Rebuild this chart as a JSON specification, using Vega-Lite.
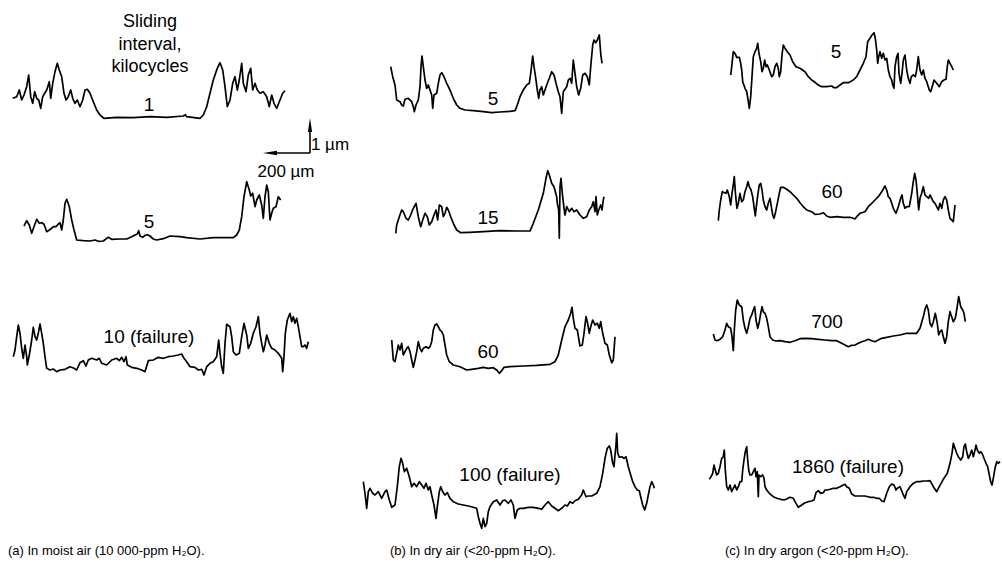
{
  "$schema": "https://vega.github.io/schema/vega-lite/v6.json",
  "width": 1002,
  "height": 572,
  "padding": 0,
  "autosize": {"type": "fit", "contains": "padding"},
  "background": "white",
  "config": {"view": {"stroke": null}},
  "datasets": {
    "traces": [
      {"t":"a1","x":12.7,"y":98.3},{"t":"a1","x":16.7,"y":96.7},{"t":"a1","x":19.3,"y":90},{"t":"a1","x":21.7,"y":100},{"t":"a1","x":24,"y":95},{"t":"a1","x":26.7,"y":86.7},{"t":"a1","x":28.7,"y":75},{"t":"a1","x":30.7,"y":96.7},{"t":"a1","x":32.7,"y":103.3},{"t":"a1","x":34.7,"y":91.7},{"t":"a1","x":36.7,"y":98.3},{"t":"a1","x":38.7,"y":100},{"t":"a1","x":40.7,"y":108.3},{"t":"a1","x":42.7,"y":96.7},{"t":"a1","x":44.7,"y":93.3},{"t":"a1","x":46.7,"y":90},{"t":"a1","x":49.3,"y":81.7},{"t":"a1","x":50.7,"y":98.3},{"t":"a1","x":52.7,"y":83.3},{"t":"a1","x":55,"y":71.7},{"t":"a1","x":57.3,"y":63.3},{"t":"a1","x":59.3,"y":70},{"t":"a1","x":61.7,"y":76.7},{"t":"a1","x":64,"y":93.3},{"t":"a1","x":66,"y":100},{"t":"a1","x":68.3,"y":96.7},{"t":"a1","x":70.7,"y":90},{"t":"a1","x":72.7,"y":98.3},{"t":"a1","x":75,"y":103.3},{"t":"a1","x":77.3,"y":100},{"t":"a1","x":80,"y":106.7},{"t":"a1","x":82.7,"y":100},{"t":"a1","x":85,"y":90},{"t":"a1","x":87.3,"y":89.3},{"t":"a1","x":90,"y":93.3},{"t":"a1","x":93.3,"y":101.7},{"t":"a1","x":96.7,"y":110},{"t":"a1","x":100,"y":115},{"t":"a1","x":104,"y":118.3},{"t":"a1","x":116.7,"y":117.3},{"t":"a1","x":133.3,"y":117.7},{"t":"a1","x":150,"y":116.7},{"t":"a1","x":166.7,"y":117.3},{"t":"a1","x":183.3,"y":116},{"t":"a1","x":185.3,"y":114.7},{"t":"a1","x":186.7,"y":116.7},{"t":"a1","x":200,"y":118.3},{"t":"a1","x":203.3,"y":115},{"t":"a1","x":206.7,"y":106.7},{"t":"a1","x":210,"y":93.3},{"t":"a1","x":213.3,"y":80},{"t":"a1","x":217.3,"y":68.3},{"t":"a1","x":220,"y":62.7},{"t":"a1","x":222.7,"y":70},{"t":"a1","x":225,"y":86.7},{"t":"a1","x":227.3,"y":106.7},{"t":"a1","x":230,"y":100},{"t":"a1","x":232.7,"y":83.3},{"t":"a1","x":235,"y":76.7},{"t":"a1","x":237.3,"y":90},{"t":"a1","x":239.3,"y":80},{"t":"a1","x":241.7,"y":63.3},{"t":"a1","x":243.3,"y":83.3},{"t":"a1","x":246,"y":91.7},{"t":"a1","x":248.3,"y":75},{"t":"a1","x":250.7,"y":68.3},{"t":"a1","x":252.7,"y":90},{"t":"a1","x":255,"y":83.3},{"t":"a1","x":257.3,"y":90},{"t":"a1","x":260,"y":93.3},{"t":"a1","x":263.3,"y":91.7},{"t":"a1","x":266.7,"y":96.7},{"t":"a1","x":269.3,"y":106.7},{"t":"a1","x":271.7,"y":95},{"t":"a1","x":274,"y":103.3},{"t":"a1","x":276.7,"y":108.3},{"t":"a1","x":280,"y":100},{"t":"a1","x":282.7,"y":93.3},{"t":"a1","x":285,"y":90.7},

      {"t":"a2","x":24,"y":226},{"t":"a2","x":26.7,"y":220.7},{"t":"a2","x":29.3,"y":225},{"t":"a2","x":31.7,"y":233.3},{"t":"a2","x":34,"y":226.7},{"t":"a2","x":36.7,"y":219.3},{"t":"a2","x":39.3,"y":223.3},{"t":"a2","x":41.7,"y":222.7},{"t":"a2","x":44,"y":224.3},{"t":"a2","x":46.7,"y":231.7},{"t":"a2","x":49.3,"y":230},{"t":"a2","x":51.7,"y":228.3},{"t":"a2","x":53.3,"y":226.7},{"t":"a2","x":56,"y":226.7},{"t":"a2","x":58.3,"y":224},{"t":"a2","x":60,"y":222.7},{"t":"a2","x":61.7,"y":230},{"t":"a2","x":63.3,"y":220},{"t":"a2","x":65,"y":203.3},{"t":"a2","x":66.7,"y":199.3},{"t":"a2","x":69.3,"y":206.7},{"t":"a2","x":71.7,"y":220},{"t":"a2","x":74,"y":230},{"t":"a2","x":76.7,"y":240},{"t":"a2","x":83.3,"y":240.7},{"t":"a2","x":90,"y":241},{"t":"a2","x":95,"y":240},{"t":"a2","x":98.3,"y":241.3},{"t":"a2","x":103.3,"y":241},{"t":"a2","x":106.7,"y":238.3},{"t":"a2","x":108.3,"y":237.3},{"t":"a2","x":111.7,"y":239.3},{"t":"a2","x":120,"y":239},{"t":"a2","x":126.7,"y":239},{"t":"a2","x":131.7,"y":236.7},{"t":"a2","x":135,"y":235},{"t":"a2","x":137.3,"y":234},{"t":"a2","x":138.7,"y":230.7},{"t":"a2","x":140,"y":236},{"t":"a2","x":142.7,"y":237.3},{"t":"a2","x":145,"y":235.3},{"t":"a2","x":147.3,"y":234.7},{"t":"a2","x":150,"y":236},{"t":"a2","x":153.3,"y":239},{"t":"a2","x":156.7,"y":240},{"t":"a2","x":163.3,"y":238.7},{"t":"a2","x":170,"y":236},{"t":"a2","x":180,"y":236.7},{"t":"a2","x":186.7,"y":237.7},{"t":"a2","x":200,"y":239},{"t":"a2","x":213.3,"y":237.7},{"t":"a2","x":233.3,"y":237.7},{"t":"a2","x":236.7,"y":235},{"t":"a2","x":239.3,"y":230},{"t":"a2","x":241.7,"y":216.7},{"t":"a2","x":244,"y":196.7},{"t":"a2","x":246.7,"y":181.7},{"t":"a2","x":249.3,"y":190},{"t":"a2","x":250.7,"y":196},{"t":"a2","x":252.7,"y":193.3},{"t":"a2","x":255,"y":206.7},{"t":"a2","x":256.7,"y":200},{"t":"a2","x":259.3,"y":195},{"t":"a2","x":261.7,"y":205},{"t":"a2","x":263.3,"y":218.3},{"t":"a2","x":265,"y":196.7},{"t":"a2","x":266.7,"y":185},{"t":"a2","x":268.3,"y":191.7},{"t":"a2","x":270,"y":220},{"t":"a2","x":271.7,"y":213.3},{"t":"a2","x":273.3,"y":208.3},{"t":"a2","x":276,"y":206.7},{"t":"a2","x":278.3,"y":196.7},{"t":"a2","x":280.7,"y":200},

      {"t":"a3","x":13.3,"y":356.7},{"t":"a3","x":15,"y":350},{"t":"a3","x":16.7,"y":336.7},{"t":"a3","x":18.3,"y":325},{"t":"a3","x":20,"y":333.3},{"t":"a3","x":21.7,"y":348.3},{"t":"a3","x":23.3,"y":358.3},{"t":"a3","x":25,"y":345},{"t":"a3","x":26.7,"y":356.7},{"t":"a3","x":27.3,"y":365},{"t":"a3","x":29.3,"y":355},{"t":"a3","x":31.7,"y":340},{"t":"a3","x":33.3,"y":327.3},{"t":"a3","x":35,"y":336.7},{"t":"a3","x":36.7,"y":340},{"t":"a3","x":38.3,"y":333.3},{"t":"a3","x":40,"y":324},{"t":"a3","x":41.7,"y":333.3},{"t":"a3","x":43.3,"y":343.3},{"t":"a3","x":45,"y":356.7},{"t":"a3","x":46.7,"y":368.3},{"t":"a3","x":50,"y":370},{"t":"a3","x":53.3,"y":369},{"t":"a3","x":56.7,"y":371.7},{"t":"a3","x":60,"y":370},{"t":"a3","x":65,"y":369.3},{"t":"a3","x":70,"y":366.7},{"t":"a3","x":74,"y":368.3},{"t":"a3","x":76.7,"y":370},{"t":"a3","x":80,"y":362.7},{"t":"a3","x":83.3,"y":360.7},{"t":"a3","x":86,"y":366},{"t":"a3","x":88.3,"y":360},{"t":"a3","x":91.7,"y":358.3},{"t":"a3","x":96.7,"y":360},{"t":"a3","x":99.3,"y":358.3},{"t":"a3","x":101.7,"y":363.3},{"t":"a3","x":106.7,"y":365},{"t":"a3","x":111.7,"y":360},{"t":"a3","x":116.7,"y":358.3},{"t":"a3","x":119.3,"y":360.7},{"t":"a3","x":121.7,"y":357.3},{"t":"a3","x":124,"y":361.7},{"t":"a3","x":126,"y":356.7},{"t":"a3","x":127.3,"y":365},{"t":"a3","x":131.7,"y":367.3},{"t":"a3","x":136.7,"y":368.3},{"t":"a3","x":141.7,"y":370},{"t":"a3","x":145,"y":371.7},{"t":"a3","x":148.3,"y":360.7},{"t":"a3","x":153.3,"y":360},{"t":"a3","x":158.3,"y":357.3},{"t":"a3","x":163.3,"y":358.3},{"t":"a3","x":168.3,"y":356.7},{"t":"a3","x":173.3,"y":356},{"t":"a3","x":178.3,"y":355},{"t":"a3","x":181.7,"y":354},{"t":"a3","x":184,"y":358.3},{"t":"a3","x":186.7,"y":361.7},{"t":"a3","x":190,"y":366.7},{"t":"a3","x":195,"y":367.3},{"t":"a3","x":198.3,"y":370},{"t":"a3","x":201.7,"y":369.3},{"t":"a3","x":204,"y":375},{"t":"a3","x":206.7,"y":366.7},{"t":"a3","x":210,"y":363.3},{"t":"a3","x":213.3,"y":361.7},{"t":"a3","x":216.7,"y":356.7},{"t":"a3","x":218.7,"y":340},{"t":"a3","x":220,"y":353.3},{"t":"a3","x":221.7,"y":366.7},{"t":"a3","x":223.3,"y":373.3},{"t":"a3","x":225,"y":343.3},{"t":"a3","x":226.7,"y":324.3},{"t":"a3","x":230,"y":326.7},{"t":"a3","x":231.7,"y":336.7},{"t":"a3","x":233.3,"y":351.7},{"t":"a3","x":236,"y":355},{"t":"a3","x":239.3,"y":353.3},{"t":"a3","x":241.7,"y":336.7},{"t":"a3","x":244,"y":323.3},{"t":"a3","x":246.7,"y":335},{"t":"a3","x":248.3,"y":348.3},{"t":"a3","x":250.7,"y":343.3},{"t":"a3","x":253.3,"y":333.3},{"t":"a3","x":256,"y":326.7},{"t":"a3","x":258.3,"y":316.7},{"t":"a3","x":260,"y":333.3},{"t":"a3","x":261.7,"y":343.3},{"t":"a3","x":263.3,"y":351.7},{"t":"a3","x":265,"y":345},{"t":"a3","x":266.7,"y":335},{"t":"a3","x":269.3,"y":343.3},{"t":"a3","x":271.7,"y":348.3},{"t":"a3","x":275,"y":350},{"t":"a3","x":278.3,"y":353.3},{"t":"a3","x":281.7,"y":358.3},{"t":"a3","x":282.7,"y":371.7},{"t":"a3","x":284,"y":356.7},{"t":"a3","x":285.3,"y":333.3},{"t":"a3","x":287.3,"y":320},{"t":"a3","x":290,"y":313.3},{"t":"a3","x":291.7,"y":321.7},{"t":"a3","x":293.3,"y":316.7},{"t":"a3","x":295,"y":323.3},{"t":"a3","x":296.7,"y":318.3},{"t":"a3","x":298.3,"y":326.7},{"t":"a3","x":300,"y":336.7},{"t":"a3","x":301.7,"y":346.7},{"t":"a3","x":303.3,"y":346.7},{"t":"a3","x":305,"y":345},{"t":"a3","x":306.7,"y":348.3},{"t":"a3","x":308.3,"y":341.7},

      {"t":"b1","x":390.7,"y":66.7},{"t":"b1","x":392.7,"y":76.7},{"t":"b1","x":395,"y":85},{"t":"b1","x":396.7,"y":100},{"t":"b1","x":400,"y":101.7},{"t":"b1","x":401.7,"y":105},{"t":"b1","x":403.3,"y":106},{"t":"b1","x":405,"y":99.3},{"t":"b1","x":408.3,"y":98.3},{"t":"b1","x":411.7,"y":101.7},{"t":"b1","x":413.3,"y":106.7},{"t":"b1","x":414.3,"y":111.7},{"t":"b1","x":416,"y":105},{"t":"b1","x":418.3,"y":100},{"t":"b1","x":420,"y":86.7},{"t":"b1","x":421,"y":66.7},{"t":"b1","x":422,"y":56},{"t":"b1","x":423.3,"y":66.7},{"t":"b1","x":425,"y":80},{"t":"b1","x":426.7,"y":88.3},{"t":"b1","x":428.3,"y":85},{"t":"b1","x":430,"y":90},{"t":"b1","x":431.7,"y":95},{"t":"b1","x":432.7,"y":108.3},{"t":"b1","x":434,"y":95},{"t":"b1","x":436.7,"y":93.3},{"t":"b1","x":438.3,"y":83.3},{"t":"b1","x":440,"y":75},{"t":"b1","x":441.7,"y":72.7},{"t":"b1","x":444,"y":76.7},{"t":"b1","x":446.7,"y":83.3},{"t":"b1","x":450,"y":90},{"t":"b1","x":453.3,"y":98.3},{"t":"b1","x":456.7,"y":105},{"t":"b1","x":460,"y":108.3},{"t":"b1","x":465,"y":110},{"t":"b1","x":473.3,"y":110.7},{"t":"b1","x":483.3,"y":111.7},{"t":"b1","x":491.7,"y":112.7},{"t":"b1","x":500,"y":112},{"t":"b1","x":510,"y":111.3},{"t":"b1","x":515,"y":110.7},{"t":"b1","x":516.7,"y":106.7},{"t":"b1","x":520,"y":96.7},{"t":"b1","x":523.3,"y":90},{"t":"b1","x":526.7,"y":85},{"t":"b1","x":529.3,"y":83.3},{"t":"b1","x":530.7,"y":73.3},{"t":"b1","x":532.7,"y":56},{"t":"b1","x":534,"y":66.7},{"t":"b1","x":536,"y":80},{"t":"b1","x":537.3,"y":90},{"t":"b1","x":538.7,"y":98.3},{"t":"b1","x":540,"y":90},{"t":"b1","x":541.7,"y":86.7},{"t":"b1","x":543.3,"y":95},{"t":"b1","x":545,"y":90},{"t":"b1","x":546.7,"y":85},{"t":"b1","x":549.3,"y":78.3},{"t":"b1","x":551.7,"y":71.7},{"t":"b1","x":554,"y":75},{"t":"b1","x":556,"y":83.3},{"t":"b1","x":558.3,"y":91.7},{"t":"b1","x":560,"y":96.7},{"t":"b1","x":561.7,"y":113.3},{"t":"b1","x":563.3,"y":91.7},{"t":"b1","x":566.7,"y":86.7},{"t":"b1","x":568.3,"y":80},{"t":"b1","x":570,"y":78.3},{"t":"b1","x":571.7,"y":83.3},{"t":"b1","x":573.3,"y":60},{"t":"b1","x":575,"y":73.3},{"t":"b1","x":576.7,"y":86.7},{"t":"b1","x":578.7,"y":95},{"t":"b1","x":580.7,"y":88.3},{"t":"b1","x":582.7,"y":75},{"t":"b1","x":585,"y":73.3},{"t":"b1","x":587.3,"y":76.7},{"t":"b1","x":589.3,"y":85},{"t":"b1","x":590.7,"y":66.7},{"t":"b1","x":592.7,"y":45},{"t":"b1","x":594,"y":40},{"t":"b1","x":595.7,"y":42.7},{"t":"b1","x":597.3,"y":40},{"t":"b1","x":599.3,"y":35},{"t":"b1","x":600.7,"y":53.3},{"t":"b1","x":602,"y":63.3},

      {"t":"b2","x":395.7,"y":233.3},{"t":"b2","x":396.7,"y":225},{"t":"b2","x":399.3,"y":216.7},{"t":"b2","x":401.7,"y":210},{"t":"b2","x":403.3,"y":211.7},{"t":"b2","x":406,"y":218.3},{"t":"b2","x":408.3,"y":220},{"t":"b2","x":410.7,"y":215},{"t":"b2","x":413.3,"y":208.3},{"t":"b2","x":416,"y":203.3},{"t":"b2","x":418.3,"y":216.7},{"t":"b2","x":420.7,"y":226.7},{"t":"b2","x":422.7,"y":220},{"t":"b2","x":425,"y":213.3},{"t":"b2","x":427.3,"y":216.7},{"t":"b2","x":429.3,"y":225},{"t":"b2","x":431.7,"y":221.7},{"t":"b2","x":434,"y":215},{"t":"b2","x":436,"y":210},{"t":"b2","x":437.7,"y":220},{"t":"b2","x":439.3,"y":205},{"t":"b2","x":441.7,"y":206.7},{"t":"b2","x":443.3,"y":216.7},{"t":"b2","x":445,"y":213.3},{"t":"b2","x":446.7,"y":207.3},{"t":"b2","x":448.3,"y":210},{"t":"b2","x":450.7,"y":216.7},{"t":"b2","x":453.3,"y":223.3},{"t":"b2","x":456.7,"y":230},{"t":"b2","x":460.7,"y":232.7},{"t":"b2","x":470,"y":232.3},{"t":"b2","x":483.3,"y":231.7},{"t":"b2","x":500,"y":230.7},{"t":"b2","x":516.7,"y":231},{"t":"b2","x":530,"y":231},{"t":"b2","x":533.3,"y":223.3},{"t":"b2","x":538.3,"y":210},{"t":"b2","x":543.3,"y":193.3},{"t":"b2","x":546,"y":178.3},{"t":"b2","x":547.7,"y":170.7},{"t":"b2","x":549.3,"y":175},{"t":"b2","x":551.7,"y":183.3},{"t":"b2","x":554,"y":186.7},{"t":"b2","x":556.7,"y":196.7},{"t":"b2","x":557.3,"y":203.3},{"t":"b2","x":558.7,"y":210},{"t":"b2","x":559.3,"y":238.3},{"t":"b2","x":560,"y":186.7},{"t":"b2","x":561,"y":178.3},{"t":"b2","x":562.3,"y":193.3},{"t":"b2","x":564,"y":208.3},{"t":"b2","x":565,"y":215},{"t":"b2","x":566.7,"y":206.7},{"t":"b2","x":569.3,"y":211.7},{"t":"b2","x":571.7,"y":208.3},{"t":"b2","x":574,"y":211.7},{"t":"b2","x":576.7,"y":210},{"t":"b2","x":580,"y":215},{"t":"b2","x":583.3,"y":218.3},{"t":"b2","x":586.7,"y":216.7},{"t":"b2","x":589.3,"y":210},{"t":"b2","x":591.7,"y":206.7},{"t":"b2","x":593.3,"y":201.7},{"t":"b2","x":595,"y":211.7},{"t":"b2","x":596,"y":196.7},{"t":"b2","x":597.3,"y":215},{"t":"b2","x":598.7,"y":210},{"t":"b2","x":600.7,"y":205},{"t":"b2","x":602,"y":210},{"t":"b2","x":603.3,"y":200},{"t":"b2","x":604,"y":196.7},

      {"t":"b3","x":391.7,"y":340},{"t":"b3","x":393.3,"y":360},{"t":"b3","x":395,"y":361.7},{"t":"b3","x":396.7,"y":353.3},{"t":"b3","x":398.3,"y":345},{"t":"b3","x":400,"y":350},{"t":"b3","x":401.7,"y":343.3},{"t":"b3","x":403.3,"y":355},{"t":"b3","x":405,"y":351.7},{"t":"b3","x":406.7,"y":348.3},{"t":"b3","x":408.3,"y":346.7},{"t":"b3","x":410,"y":351.7},{"t":"b3","x":411.7,"y":360},{"t":"b3","x":413.3,"y":367.3},{"t":"b3","x":415,"y":360},{"t":"b3","x":416.7,"y":351.7},{"t":"b3","x":418.3,"y":341.7},{"t":"b3","x":420,"y":348.3},{"t":"b3","x":421.7,"y":351.7},{"t":"b3","x":423.3,"y":348.3},{"t":"b3","x":426,"y":346.7},{"t":"b3","x":428.3,"y":348.3},{"t":"b3","x":430,"y":346.7},{"t":"b3","x":431.7,"y":341.7},{"t":"b3","x":433.3,"y":330},{"t":"b3","x":435,"y":325},{"t":"b3","x":436.7,"y":324},{"t":"b3","x":438.3,"y":326.7},{"t":"b3","x":440,"y":330},{"t":"b3","x":441.7,"y":331.7},{"t":"b3","x":443.3,"y":335},{"t":"b3","x":445,"y":345},{"t":"b3","x":446.7,"y":355},{"t":"b3","x":449.3,"y":361.7},{"t":"b3","x":453.3,"y":365},{"t":"b3","x":460,"y":366.7},{"t":"b3","x":466.7,"y":370},{"t":"b3","x":471.7,"y":369.3},{"t":"b3","x":478.3,"y":368.3},{"t":"b3","x":483.3,"y":367.3},{"t":"b3","x":488.3,"y":368.3},{"t":"b3","x":493.3,"y":367.7},{"t":"b3","x":496.7,"y":370},{"t":"b3","x":499.3,"y":373.3},{"t":"b3","x":501.7,"y":370.7},{"t":"b3","x":504,"y":367.3},{"t":"b3","x":510,"y":366.7},{"t":"b3","x":523.3,"y":366},{"t":"b3","x":536.7,"y":365.3},{"t":"b3","x":550,"y":364.3},{"t":"b3","x":555,"y":361.7},{"t":"b3","x":558.3,"y":355},{"t":"b3","x":561.7,"y":340},{"t":"b3","x":565,"y":326.7},{"t":"b3","x":568.3,"y":320},{"t":"b3","x":570.7,"y":313.3},{"t":"b3","x":572,"y":307.3},{"t":"b3","x":573.3,"y":318.3},{"t":"b3","x":575,"y":328.3},{"t":"b3","x":577.3,"y":330},{"t":"b3","x":580,"y":346},{"t":"b3","x":582.3,"y":345},{"t":"b3","x":584,"y":333.3},{"t":"b3","x":586,"y":316.7},{"t":"b3","x":587.3,"y":321.7},{"t":"b3","x":589.3,"y":333.3},{"t":"b3","x":590.7,"y":326.7},{"t":"b3","x":592.7,"y":320},{"t":"b3","x":595,"y":325},{"t":"b3","x":597.3,"y":323.3},{"t":"b3","x":599.3,"y":328.3},{"t":"b3","x":600.7,"y":321.7},{"t":"b3","x":602.7,"y":333.3},{"t":"b3","x":605,"y":343.3},{"t":"b3","x":607.3,"y":345},{"t":"b3","x":609.3,"y":355},{"t":"b3","x":611.7,"y":362.7},{"t":"b3","x":613.3,"y":360},{"t":"b3","x":615,"y":336.7},

      {"t":"b4","x":363.3,"y":481.7},{"t":"b4","x":365,"y":493.3},{"t":"b4","x":366.7,"y":508.3},{"t":"b4","x":368.3,"y":491.7},{"t":"b4","x":370,"y":488.3},{"t":"b4","x":372.7,"y":493.3},{"t":"b4","x":375,"y":495},{"t":"b4","x":378.3,"y":491.7},{"t":"b4","x":381.7,"y":498.3},{"t":"b4","x":385,"y":491.7},{"t":"b4","x":386.7,"y":490},{"t":"b4","x":389.3,"y":500},{"t":"b4","x":391.7,"y":507.3},{"t":"b4","x":395,"y":505},{"t":"b4","x":397.3,"y":486.7},{"t":"b4","x":399.3,"y":466.7},{"t":"b4","x":401,"y":458.3},{"t":"b4","x":402.7,"y":463.3},{"t":"b4","x":404.3,"y":471.7},{"t":"b4","x":406.7,"y":468.3},{"t":"b4","x":409.3,"y":476.7},{"t":"b4","x":411.7,"y":486.7},{"t":"b4","x":414,"y":483.3},{"t":"b4","x":416.7,"y":486.7},{"t":"b4","x":419.3,"y":481.7},{"t":"b4","x":421.7,"y":485},{"t":"b4","x":424,"y":488.3},{"t":"b4","x":426,"y":483.3},{"t":"b4","x":428.3,"y":490},{"t":"b4","x":430,"y":486.7},{"t":"b4","x":431.7,"y":495},{"t":"b4","x":434,"y":505},{"t":"b4","x":436,"y":518.3},{"t":"b4","x":437.3,"y":506.7},{"t":"b4","x":439.3,"y":491.7},{"t":"b4","x":440.7,"y":486.7},{"t":"b4","x":442.7,"y":491.7},{"t":"b4","x":445,"y":495},{"t":"b4","x":447.3,"y":492.7},{"t":"b4","x":450,"y":498.3},{"t":"b4","x":453.3,"y":501.7},{"t":"b4","x":458.3,"y":504},{"t":"b4","x":463.3,"y":505},{"t":"b4","x":468.3,"y":506},{"t":"b4","x":473.3,"y":507.3},{"t":"b4","x":476.7,"y":508.3},{"t":"b4","x":478.3,"y":516.7},{"t":"b4","x":480,"y":523.3},{"t":"b4","x":481.7,"y":528.3},{"t":"b4","x":483.3,"y":518.3},{"t":"b4","x":485,"y":526.7},{"t":"b4","x":486.7,"y":523.3},{"t":"b4","x":488.3,"y":511.7},{"t":"b4","x":490,"y":506.7},{"t":"b4","x":493.3,"y":501.7},{"t":"b4","x":496.7,"y":500},{"t":"b4","x":500,"y":505},{"t":"b4","x":502.7,"y":500.7},{"t":"b4","x":505,"y":500},{"t":"b4","x":508.3,"y":503.3},{"t":"b4","x":511,"y":500},{"t":"b4","x":513.3,"y":505},{"t":"b4","x":515,"y":518.3},{"t":"b4","x":517.3,"y":510},{"t":"b4","x":520,"y":508.3},{"t":"b4","x":523.3,"y":508.3},{"t":"b4","x":528.3,"y":507.3},{"t":"b4","x":533.3,"y":507.3},{"t":"b4","x":538.3,"y":508.3},{"t":"b4","x":541.7,"y":509.3},{"t":"b4","x":545,"y":505},{"t":"b4","x":548.3,"y":501.7},{"t":"b4","x":551.7,"y":506},{"t":"b4","x":555,"y":508.3},{"t":"b4","x":558.3,"y":510.7},{"t":"b4","x":561.7,"y":508.3},{"t":"b4","x":565,"y":505},{"t":"b4","x":567.3,"y":506},{"t":"b4","x":570,"y":501.7},{"t":"b4","x":572.7,"y":503.3},{"t":"b4","x":575,"y":500.7},{"t":"b4","x":578.3,"y":499.3},{"t":"b4","x":581.7,"y":495},{"t":"b4","x":583.3,"y":490},{"t":"b4","x":586,"y":496.7},{"t":"b4","x":588.3,"y":496},{"t":"b4","x":591.7,"y":496},{"t":"b4","x":596.7,"y":493.3},{"t":"b4","x":600,"y":486.7},{"t":"b4","x":602.7,"y":473.3},{"t":"b4","x":605,"y":458.3},{"t":"b4","x":607.3,"y":448.3},{"t":"b4","x":609.3,"y":446},{"t":"b4","x":610.7,"y":450},{"t":"b4","x":612.7,"y":463.3},{"t":"b4","x":614,"y":466.7},{"t":"b4","x":615,"y":455},{"t":"b4","x":616,"y":445},{"t":"b4","x":616.7,"y":433.3},{"t":"b4","x":617.7,"y":453.3},{"t":"b4","x":619.3,"y":457.3},{"t":"b4","x":621.7,"y":456.7},{"t":"b4","x":624,"y":458.3},{"t":"b4","x":626,"y":456.7},{"t":"b4","x":628.3,"y":466.7},{"t":"b4","x":630.7,"y":475},{"t":"b4","x":632.7,"y":481.7},{"t":"b4","x":635,"y":486.7},{"t":"b4","x":637.3,"y":490},{"t":"b4","x":639.3,"y":490.7},{"t":"b4","x":640.7,"y":496.7},{"t":"b4","x":642.7,"y":505},{"t":"b4","x":644.7,"y":510},{"t":"b4","x":646.7,"y":503.3},{"t":"b4","x":648.3,"y":495},{"t":"b4","x":650,"y":486.7},{"t":"b4","x":651.7,"y":481.7},{"t":"b4","x":653.3,"y":485},{"t":"b4","x":654.3,"y":488.3},

      {"t":"c1","x":730.7,"y":75},{"t":"c1","x":731.7,"y":66.7},{"t":"c1","x":733.3,"y":51.7},{"t":"c1","x":735,"y":53.3},{"t":"c1","x":736.7,"y":57.3},{"t":"c1","x":739.3,"y":57.3},{"t":"c1","x":740.7,"y":63.3},{"t":"c1","x":741.7,"y":70},{"t":"c1","x":742.7,"y":81.7},{"t":"c1","x":745,"y":88.3},{"t":"c1","x":746.7,"y":91.7},{"t":"c1","x":748.3,"y":101.7},{"t":"c1","x":749.3,"y":108.3},{"t":"c1","x":750.7,"y":96.7},{"t":"c1","x":752,"y":76.7},{"t":"c1","x":753.3,"y":56.7},{"t":"c1","x":755,"y":51.7},{"t":"c1","x":756.7,"y":48.3},{"t":"c1","x":757.7,"y":43.3},{"t":"c1","x":759,"y":53.3},{"t":"c1","x":760.7,"y":61.7},{"t":"c1","x":762,"y":71.7},{"t":"c1","x":763.3,"y":68.3},{"t":"c1","x":764.7,"y":60},{"t":"c1","x":766,"y":66.7},{"t":"c1","x":767.3,"y":65},{"t":"c1","x":769.3,"y":70},{"t":"c1","x":771.7,"y":76.7},{"t":"c1","x":773.3,"y":75},{"t":"c1","x":775,"y":66.7},{"t":"c1","x":776.7,"y":63.3},{"t":"c1","x":778.3,"y":68.3},{"t":"c1","x":779.3,"y":76.7},{"t":"c1","x":780.7,"y":71.7},{"t":"c1","x":782,"y":55},{"t":"c1","x":783.3,"y":45},{"t":"c1","x":785,"y":48.3},{"t":"c1","x":787.3,"y":51.7},{"t":"c1","x":790,"y":55},{"t":"c1","x":792.7,"y":61.7},{"t":"c1","x":796,"y":66.7},{"t":"c1","x":800,"y":68.3},{"t":"c1","x":805,"y":71.7},{"t":"c1","x":808.3,"y":76.7},{"t":"c1","x":811.7,"y":80},{"t":"c1","x":815,"y":82.3},{"t":"c1","x":818.3,"y":85},{"t":"c1","x":821.7,"y":86.7},{"t":"c1","x":826.7,"y":86.7},{"t":"c1","x":831.7,"y":86},{"t":"c1","x":834,"y":87.7},{"t":"c1","x":836.7,"y":87.7},{"t":"c1","x":840,"y":85},{"t":"c1","x":843.3,"y":82.7},{"t":"c1","x":848.3,"y":82.7},{"t":"c1","x":853.3,"y":80},{"t":"c1","x":856.7,"y":76.7},{"t":"c1","x":860,"y":70},{"t":"c1","x":863.3,"y":63.3},{"t":"c1","x":866,"y":56.7},{"t":"c1","x":867.7,"y":41.7},{"t":"c1","x":870,"y":38.3},{"t":"c1","x":872,"y":35},{"t":"c1","x":874,"y":32.7},{"t":"c1","x":875.3,"y":38.3},{"t":"c1","x":876.7,"y":50},{"t":"c1","x":877.7,"y":63.3},{"t":"c1","x":878.7,"y":56.7},{"t":"c1","x":880,"y":51.7},{"t":"c1","x":881.7,"y":58.3},{"t":"c1","x":883.3,"y":53.3},{"t":"c1","x":885,"y":60},{"t":"c1","x":886.7,"y":58.3},{"t":"c1","x":888.3,"y":70},{"t":"c1","x":890,"y":76.7},{"t":"c1","x":891.7,"y":80},{"t":"c1","x":892.7,"y":85},{"t":"c1","x":894,"y":88.3},{"t":"c1","x":895,"y":66.7},{"t":"c1","x":896.7,"y":56.7},{"t":"c1","x":898,"y":53.3},{"t":"c1","x":899,"y":73.3},{"t":"c1","x":900.7,"y":83.3},{"t":"c1","x":902,"y":73.3},{"t":"c1","x":903.3,"y":60},{"t":"c1","x":905,"y":55},{"t":"c1","x":906.7,"y":70},{"t":"c1","x":908.3,"y":78.3},{"t":"c1","x":910,"y":83.3},{"t":"c1","x":911.3,"y":76.7},{"t":"c1","x":913.3,"y":75},{"t":"c1","x":915.3,"y":76.7},{"t":"c1","x":916.7,"y":70},{"t":"c1","x":918.3,"y":56.7},{"t":"c1","x":920,"y":70},{"t":"c1","x":921.7,"y":75},{"t":"c1","x":923.3,"y":70},{"t":"c1","x":925,"y":78.3},{"t":"c1","x":926.7,"y":81.7},{"t":"c1","x":929.3,"y":90},{"t":"c1","x":930.7,"y":91.7},{"t":"c1","x":932.7,"y":85},{"t":"c1","x":934,"y":80},{"t":"c1","x":936.7,"y":83.3},{"t":"c1","x":939.3,"y":86.7},{"t":"c1","x":941.7,"y":81.7},{"t":"c1","x":944,"y":80},{"t":"c1","x":946,"y":79.3},{"t":"c1","x":947.3,"y":66.7},{"t":"c1","x":948.3,"y":60},{"t":"c1","x":950,"y":63.3},{"t":"c1","x":951.7,"y":66.7},{"t":"c1","x":953.3,"y":70},

      {"t":"c2","x":718.3,"y":220.7},{"t":"c2","x":719.3,"y":210},{"t":"c2","x":720.7,"y":200},{"t":"c2","x":722.3,"y":191.7},{"t":"c2","x":724.3,"y":192.7},{"t":"c2","x":726,"y":193.3},{"t":"c2","x":727.3,"y":190},{"t":"c2","x":729.3,"y":196.7},{"t":"c2","x":730.7,"y":205},{"t":"c2","x":732,"y":193.3},{"t":"c2","x":733.3,"y":185},{"t":"c2","x":734.3,"y":176.7},{"t":"c2","x":735.7,"y":196.7},{"t":"c2","x":737,"y":208.3},{"t":"c2","x":738.3,"y":203.3},{"t":"c2","x":740,"y":193.3},{"t":"c2","x":741.7,"y":201.7},{"t":"c2","x":743.3,"y":200},{"t":"c2","x":745,"y":191.7},{"t":"c2","x":746.7,"y":186.7},{"t":"c2","x":748,"y":181.7},{"t":"c2","x":749.3,"y":186.7},{"t":"c2","x":751,"y":190},{"t":"c2","x":752.7,"y":196.7},{"t":"c2","x":754,"y":206.7},{"t":"c2","x":755.3,"y":216},{"t":"c2","x":756.7,"y":203.3},{"t":"c2","x":758,"y":193.3},{"t":"c2","x":759.3,"y":185},{"t":"c2","x":760.7,"y":183.3},{"t":"c2","x":762,"y":190},{"t":"c2","x":763.3,"y":200},{"t":"c2","x":765,"y":206.7},{"t":"c2","x":766.7,"y":210},{"t":"c2","x":768.3,"y":203.3},{"t":"c2","x":770,"y":198.3},{"t":"c2","x":771.3,"y":206.7},{"t":"c2","x":772.7,"y":215},{"t":"c2","x":774,"y":218.3},{"t":"c2","x":775.3,"y":213.3},{"t":"c2","x":777.3,"y":203.3},{"t":"c2","x":779.3,"y":193.3},{"t":"c2","x":780.7,"y":187.3},{"t":"c2","x":783.3,"y":187.3},{"t":"c2","x":786.7,"y":189.3},{"t":"c2","x":790,"y":191.7},{"t":"c2","x":793.3,"y":195},{"t":"c2","x":796.7,"y":198.3},{"t":"c2","x":800,"y":202.7},{"t":"c2","x":803.3,"y":206.7},{"t":"c2","x":806.7,"y":210},{"t":"c2","x":811.7,"y":211.7},{"t":"c2","x":815,"y":214.3},{"t":"c2","x":820,"y":214},{"t":"c2","x":823.3,"y":212.7},{"t":"c2","x":826.7,"y":216},{"t":"c2","x":830,"y":217.3},{"t":"c2","x":836.7,"y":216.7},{"t":"c2","x":843.3,"y":217.3},{"t":"c2","x":850,"y":217.3},{"t":"c2","x":853.3,"y":218.3},{"t":"c2","x":855,"y":219},{"t":"c2","x":856.7,"y":216.7},{"t":"c2","x":860,"y":213.3},{"t":"c2","x":865,"y":211.7},{"t":"c2","x":868.3,"y":206.7},{"t":"c2","x":871.7,"y":203.3},{"t":"c2","x":875,"y":200},{"t":"c2","x":878.3,"y":196.7},{"t":"c2","x":881.7,"y":191.7},{"t":"c2","x":885,"y":186},{"t":"c2","x":886.7,"y":190},{"t":"c2","x":888.3,"y":196.7},{"t":"c2","x":890,"y":198.3},{"t":"c2","x":891.7,"y":203.3},{"t":"c2","x":893.3,"y":208.3},{"t":"c2","x":896,"y":213.3},{"t":"c2","x":898.3,"y":206.7},{"t":"c2","x":900.7,"y":198.3},{"t":"c2","x":902,"y":195},{"t":"c2","x":903.3,"y":203.3},{"t":"c2","x":905,"y":208.3},{"t":"c2","x":906.7,"y":206.7},{"t":"c2","x":909.3,"y":206.7},{"t":"c2","x":911.7,"y":193.3},{"t":"c2","x":913.3,"y":181.7},{"t":"c2","x":914.7,"y":173.3},{"t":"c2","x":916,"y":180},{"t":"c2","x":917.3,"y":193.3},{"t":"c2","x":918.7,"y":210},{"t":"c2","x":920,"y":198.3},{"t":"c2","x":921.7,"y":193.3},{"t":"c2","x":923.3,"y":186.7},{"t":"c2","x":925,"y":195},{"t":"c2","x":926.7,"y":196.7},{"t":"c2","x":928.7,"y":198.3},{"t":"c2","x":930,"y":195},{"t":"c2","x":931.7,"y":198.3},{"t":"c2","x":933.3,"y":201.7},{"t":"c2","x":935,"y":203.3},{"t":"c2","x":936.7,"y":206.7},{"t":"c2","x":938.3,"y":210},{"t":"c2","x":940,"y":203.3},{"t":"c2","x":941.7,"y":208.3},{"t":"c2","x":943.3,"y":200},{"t":"c2","x":945,"y":196.7},{"t":"c2","x":946.7,"y":200},{"t":"c2","x":948.3,"y":210},{"t":"c2","x":950,"y":218.3},{"t":"c2","x":951.7,"y":220},{"t":"c2","x":953.3,"y":221.7},{"t":"c2","x":955,"y":205},

      {"t":"c3","x":713.3,"y":334},{"t":"c3","x":715,"y":340},{"t":"c3","x":717.3,"y":340.7},{"t":"c3","x":720,"y":339.3},{"t":"c3","x":722.7,"y":336.7},{"t":"c3","x":725,"y":330},{"t":"c3","x":726.7,"y":323.3},{"t":"c3","x":728.3,"y":326.7},{"t":"c3","x":730.7,"y":328.3},{"t":"c3","x":732,"y":336.7},{"t":"c3","x":733.3,"y":350.7},{"t":"c3","x":734.3,"y":330},{"t":"c3","x":735.7,"y":310},{"t":"c3","x":737.3,"y":300},{"t":"c3","x":739.3,"y":305},{"t":"c3","x":741.7,"y":306.7},{"t":"c3","x":743.3,"y":320},{"t":"c3","x":745,"y":328.3},{"t":"c3","x":746.7,"y":333.3},{"t":"c3","x":748.3,"y":326.7},{"t":"c3","x":750,"y":318.3},{"t":"c3","x":751.7,"y":315},{"t":"c3","x":753.3,"y":310},{"t":"c3","x":754.7,"y":306.7},{"t":"c3","x":756,"y":320},{"t":"c3","x":757.7,"y":328.3},{"t":"c3","x":759.3,"y":321.7},{"t":"c3","x":760.7,"y":313.3},{"t":"c3","x":762,"y":306.7},{"t":"c3","x":763.3,"y":311.7},{"t":"c3","x":765,"y":313.3},{"t":"c3","x":766.7,"y":318.3},{"t":"c3","x":768.3,"y":326.7},{"t":"c3","x":770,"y":336.7},{"t":"c3","x":772.7,"y":340},{"t":"c3","x":776,"y":341},{"t":"c3","x":780,"y":340.7},{"t":"c3","x":785,"y":341.7},{"t":"c3","x":790,"y":342.3},{"t":"c3","x":795,"y":340.7},{"t":"c3","x":800,"y":338.7},{"t":"c3","x":805,"y":338.3},{"t":"c3","x":811.7,"y":338.7},{"t":"c3","x":818.3,"y":339.3},{"t":"c3","x":825,"y":340},{"t":"c3","x":831.7,"y":340.7},{"t":"c3","x":836.7,"y":340.7},{"t":"c3","x":841.7,"y":343.3},{"t":"c3","x":845,"y":345},{"t":"c3","x":848.3,"y":346.7},{"t":"c3","x":851.7,"y":345.3},{"t":"c3","x":855,"y":345},{"t":"c3","x":858.3,"y":343.3},{"t":"c3","x":861.7,"y":341.7},{"t":"c3","x":865,"y":340.7},{"t":"c3","x":868.3,"y":339.3},{"t":"c3","x":871.7,"y":340.7},{"t":"c3","x":875,"y":341.7},{"t":"c3","x":878.3,"y":340},{"t":"c3","x":881.7,"y":338.3},{"t":"c3","x":886.7,"y":337.3},{"t":"c3","x":893.3,"y":336},{"t":"c3","x":900,"y":335},{"t":"c3","x":906.7,"y":333.3},{"t":"c3","x":911.7,"y":333.3},{"t":"c3","x":916.7,"y":333.3},{"t":"c3","x":920,"y":328.3},{"t":"c3","x":923.3,"y":316.7},{"t":"c3","x":925.3,"y":308.3},{"t":"c3","x":926.7,"y":305},{"t":"c3","x":928.3,"y":310},{"t":"c3","x":930,"y":323.3},{"t":"c3","x":931.7,"y":326.7},{"t":"c3","x":933.3,"y":321.7},{"t":"c3","x":935.3,"y":313.3},{"t":"c3","x":937.3,"y":323.3},{"t":"c3","x":938.7,"y":335},{"t":"c3","x":940,"y":331.7},{"t":"c3","x":941.7,"y":330},{"t":"c3","x":943.3,"y":336.7},{"t":"c3","x":945,"y":343.3},{"t":"c3","x":946.7,"y":336.7},{"t":"c3","x":948.3,"y":321.7},{"t":"c3","x":950,"y":311.7},{"t":"c3","x":951.7,"y":316.7},{"t":"c3","x":953.3,"y":321.7},{"t":"c3","x":955.3,"y":318.3},{"t":"c3","x":956.7,"y":310},{"t":"c3","x":958.7,"y":296.7},{"t":"c3","x":960.7,"y":306.7},{"t":"c3","x":962.7,"y":310},{"t":"c3","x":964,"y":313.3},{"t":"c3","x":965.3,"y":321.7},

      {"t":"c4","x":709.3,"y":479.3},{"t":"c4","x":710.7,"y":477.3},{"t":"c4","x":712.7,"y":473.3},{"t":"c4","x":714,"y":465},{"t":"c4","x":715.3,"y":470},{"t":"c4","x":716.7,"y":475},{"t":"c4","x":718.3,"y":473.3},{"t":"c4","x":720,"y":466.7},{"t":"c4","x":721.7,"y":458.3},{"t":"c4","x":723.3,"y":456.7},{"t":"c4","x":724.3,"y":450},{"t":"c4","x":725.3,"y":470},{"t":"c4","x":726.7,"y":486.7},{"t":"c4","x":728.3,"y":490},{"t":"c4","x":730,"y":485},{"t":"c4","x":731.7,"y":491.7},{"t":"c4","x":733.3,"y":488.3},{"t":"c4","x":735,"y":485},{"t":"c4","x":736.7,"y":490},{"t":"c4","x":738.3,"y":486.7},{"t":"c4","x":740,"y":481.7},{"t":"c4","x":741.7,"y":481.7},{"t":"c4","x":742.7,"y":470},{"t":"c4","x":744,"y":460},{"t":"c4","x":745.3,"y":451.7},{"t":"c4","x":746.7,"y":446.7},{"t":"c4","x":747.7,"y":460},{"t":"c4","x":748.7,"y":470},{"t":"c4","x":750,"y":475},{"t":"c4","x":751.7,"y":475},{"t":"c4","x":753.3,"y":471.7},{"t":"c4","x":755,"y":468.3},{"t":"c4","x":756,"y":476.7},{"t":"c4","x":757.3,"y":471.7},{"t":"c4","x":758.3,"y":496.7},{"t":"c4","x":759,"y":475},{"t":"c4","x":760.7,"y":476.7},{"t":"c4","x":762.7,"y":475},{"t":"c4","x":764,"y":478.3},{"t":"c4","x":765,"y":486.7},{"t":"c4","x":766.7,"y":490},{"t":"c4","x":769.3,"y":493.3},{"t":"c4","x":773.3,"y":496.7},{"t":"c4","x":776.7,"y":498.3},{"t":"c4","x":780.7,"y":499.3},{"t":"c4","x":784,"y":500},{"t":"c4","x":786.7,"y":499},{"t":"c4","x":790,"y":497.3},{"t":"c4","x":793.3,"y":498.3},{"t":"c4","x":796,"y":503.3},{"t":"c4","x":798.3,"y":507.3},{"t":"c4","x":801.7,"y":505},{"t":"c4","x":805,"y":502.7},{"t":"c4","x":808.3,"y":501.7},{"t":"c4","x":811.7,"y":501},{"t":"c4","x":814,"y":500},{"t":"c4","x":816,"y":492.7},{"t":"c4","x":818.3,"y":490.7},{"t":"c4","x":820.7,"y":493.3},{"t":"c4","x":823.3,"y":492.7},{"t":"c4","x":825,"y":490},{"t":"c4","x":827.3,"y":490},{"t":"c4","x":830,"y":489.3},{"t":"c4","x":833.3,"y":488.3},{"t":"c4","x":836.7,"y":488.3},{"t":"c4","x":840,"y":486.7},{"t":"c4","x":843.3,"y":485},{"t":"c4","x":845,"y":484.3},{"t":"c4","x":846.7,"y":486.7},{"t":"c4","x":849.3,"y":488.3},{"t":"c4","x":851.7,"y":494},{"t":"c4","x":855,"y":496},{"t":"c4","x":860,"y":496},{"t":"c4","x":865,"y":496},{"t":"c4","x":870,"y":497.3},{"t":"c4","x":873.3,"y":497.3},{"t":"c4","x":876.7,"y":498.3},{"t":"c4","x":879.3,"y":498.3},{"t":"c4","x":881.7,"y":501},{"t":"c4","x":884,"y":501.7},{"t":"c4","x":886.7,"y":493.3},{"t":"c4","x":889.3,"y":486.7},{"t":"c4","x":891.7,"y":484},{"t":"c4","x":894,"y":485},{"t":"c4","x":896,"y":490},{"t":"c4","x":897.3,"y":488.3},{"t":"c4","x":900,"y":486.7},{"t":"c4","x":902.7,"y":493.3},{"t":"c4","x":905,"y":498.3},{"t":"c4","x":906.7,"y":491.7},{"t":"c4","x":910,"y":486.7},{"t":"c4","x":913.3,"y":483.3},{"t":"c4","x":916.7,"y":481.7},{"t":"c4","x":920,"y":481.7},{"t":"c4","x":923.3,"y":481},{"t":"c4","x":926.7,"y":481},{"t":"c4","x":930,"y":480.7},{"t":"c4","x":933.3,"y":486.7},{"t":"c4","x":936.7,"y":491.7},{"t":"c4","x":939.3,"y":486.7},{"t":"c4","x":943.3,"y":479.3},{"t":"c4","x":947.3,"y":473.3},{"t":"c4","x":950,"y":463.3},{"t":"c4","x":952,"y":453.3},{"t":"c4","x":953.3,"y":443.3},{"t":"c4","x":955,"y":448.3},{"t":"c4","x":956.7,"y":453.3},{"t":"c4","x":958.3,"y":456.7},{"t":"c4","x":960.7,"y":460},{"t":"c4","x":962.7,"y":456.7},{"t":"c4","x":964,"y":446.7},{"t":"c4","x":965.3,"y":444},{"t":"c4","x":966.7,"y":451.7},{"t":"c4","x":968.3,"y":458.3},{"t":"c4","x":970,"y":455},{"t":"c4","x":971.7,"y":450},{"t":"c4","x":973.3,"y":456.7},{"t":"c4","x":975,"y":450},{"t":"c4","x":976,"y":445},{"t":"c4","x":977.3,"y":450},{"t":"c4","x":979.3,"y":453.3},{"t":"c4","x":980.7,"y":451.7},{"t":"c4","x":982,"y":453.3},{"t":"c4","x":984,"y":458.3},{"t":"c4","x":986,"y":463.3},{"t":"c4","x":987.7,"y":466.7},{"t":"c4","x":989.3,"y":475},{"t":"c4","x":990.7,"y":481.7},{"t":"c4","x":992,"y":485},{"t":"c4","x":993.3,"y":478.3},{"t":"c4","x":995,"y":468.3},{"t":"c4","x":996.7,"y":461.7},{"t":"c4","x":998.3,"y":463.3},{"t":"c4","x":1000,"y":461.7}
    ],
    "scalebar": [
      {"t":"v","x":310,"y":153},{"t":"v","x":310,"y":127},
      {"t":"h","x":310,"y":153},{"t":"h","x":272,"y":153}
    ],
    "heads": [
      {"dir":"up","x":310,"y":125},
      {"dir":"left","x":270,"y":153}
    ],
    "header": [
      {"x":150,"y":22,"text":"Sliding"},
      {"x":150,"y":45,"text":"interval,"},
      {"x":150,"y":67,"text":"kilocycles"}
    ],
    "labels": [
      {"x":149,"y":105,"text":"1"},
      {"x":149,"y":222,"text":"5"},
      {"x":149,"y":337,"text":"10 (failure)"},
      {"x":493,"y":99,"text":"5"},
      {"x":488,"y":218,"text":"15"},
      {"x":488,"y":352,"text":"60"},
      {"x":510,"y":475,"text":"100 (failure)"},
      {"x":836,"y":52,"text":"5"},
      {"x":832,"y":192,"text":"60"},
      {"x":827,"y":322,"text":"700"},
      {"x":848,"y":467,"text":"1860 (failure)"}
    ],
    "units": [
      {"x":330,"y":145,"text":"1 µm"},
      {"x":286,"y":172,"text":"200 µm"}
    ],
    "captions": [
      {"x":8,"y":551,"text":"(a) In moist air (10 000-ppm H₂O)."},
      {"x":390,"y":551,"text":"(b) In dry air (<20-ppm H₂O)."},
      {"x":725,"y":551,"text":"(c) In dry argon (<20-ppm H₂O)."}
    ]
  },
  "layer": [
    {
      "data": {"name": "traces"},
      "mark": {"type": "line", "color": "black", "strokeWidth": 1.7, "strokeJoin": "round"},
      "encoding": {
        "x": {"field": "x", "type": "quantitative", "scale": {"domain": [0, 1002], "nice": false, "zero": false}, "axis": null},
        "y": {"field": "y", "type": "quantitative", "scale": {"domain": [0, 572], "nice": false, "zero": false, "reverse": true}, "axis": null},
        "detail": {"field": "t"}
      }
    },
    {
      "data": {"name": "scalebar"},
      "mark": {"type": "line", "color": "black", "strokeWidth": 1.6},
      "encoding": {
        "x": {"field": "x", "type": "quantitative"},
        "y": {"field": "y", "type": "quantitative"},
        "detail": {"field": "t"}
      }
    },
    {
      "data": {"name": "heads"},
      "mark": {"type": "point", "filled": true, "color": "black", "size": 196, "opacity": 1},
      "encoding": {
        "x": {"field": "x", "type": "quantitative"},
        "y": {"field": "y", "type": "quantitative"},
        "shape": {"field": "dir", "type": "nominal", "scale": {"domain": ["up", "left"], "range": ["M0,-1L0.3,1L-0.3,1Z", "M-1,0L1,-0.32L1,0.32Z"]}, "legend": null}
      }
    },
    {
      "data": {"name": "header"},
      "mark": {"type": "text", "font": "Liberation Sans, Arial, sans-serif", "fontSize": 18, "align": "center", "baseline": "middle", "color": "black"},
      "encoding": {
        "x": {"field": "x", "type": "quantitative"},
        "y": {"field": "y", "type": "quantitative"},
        "text": {"field": "text"}
      }
    },
    {
      "data": {"name": "labels"},
      "mark": {"type": "text", "font": "Liberation Sans, Arial, sans-serif", "fontSize": 19, "align": "center", "baseline": "middle", "color": "black"},
      "encoding": {
        "x": {"field": "x", "type": "quantitative"},
        "y": {"field": "y", "type": "quantitative"},
        "text": {"field": "text"}
      }
    },
    {
      "data": {"name": "units"},
      "mark": {"type": "text", "font": "Liberation Sans, Arial, sans-serif", "fontSize": 17, "align": "center", "baseline": "middle", "color": "black"},
      "encoding": {
        "x": {"field": "x", "type": "quantitative"},
        "y": {"field": "y", "type": "quantitative"},
        "text": {"field": "text"}
      }
    },
    {
      "data": {"name": "captions"},
      "mark": {"type": "text", "font": "Liberation Sans, Arial, sans-serif", "fontSize": 13, "align": "left", "baseline": "middle", "color": "black"},
      "encoding": {
        "x": {"field": "x", "type": "quantitative"},
        "y": {"field": "y", "type": "quantitative"},
        "text": {"field": "text"}
      }
    }
  ]
}
